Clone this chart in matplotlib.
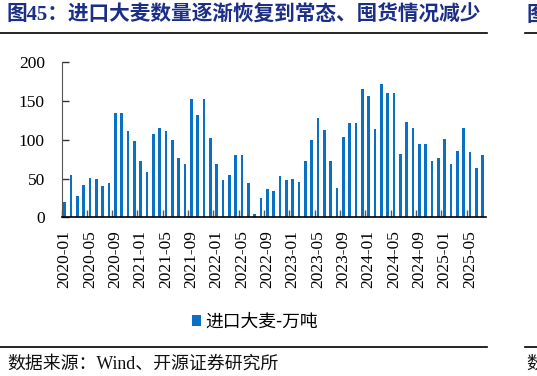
import matplotlib
matplotlib.use("Agg")
import matplotlib.pyplot as plt
import pandas as pd
import numpy as np

# ---- data ----
months = pd.period_range("2020-01", "2025-07", freq="M").strftime("%Y-%m").tolist()
barley_import = [
    20, 54, 28, 42, 51, 50, 41, 44, 134, 134, 111, 98,        # 2020
    73, 59, 107, 115, 111, 100, 77, 69, 152, 132, 153, 102,   # 2021
    69, 48, 55, 80, 80, 44, 4, 25, 36, 34, 53, 48,            # 2022
    50, 46, 73, 100, 128, 112, 72, 38, 103, 122, 122, 166,    # 2023
    157, 114, 172, 161, 161, 82, 123, 115, 94, 94, 72, 77,    # 2024
    101, 69, 85, 115, 84, 63, 81,                             # 2025
]
series_name = "进口大麦-万吨"
title_text = "图45：进口大麦数量逐渐恢复到常态、囤货情况减少"
source_text = "数据来源：Wind、开源证券研究所"
yticks = [0, 50, 100, 150, 200]

BLUE = "#0A70C4"
NAVY = "#1C2F86"
FONT = ["Liberation Serif", "Noto Sans CJK SC", "DejaVu Sans"]
plt.rcParams["font.family"] = FONT

W, H = 537, 376
fig = plt.figure(figsize=(W / 100, H / 100), dpi=100)

def fx(px):
    return px / W

def fy(py):
    return 1 - py / H

ax = fig.add_axes([fx(61.5), fy(217.3), fx(485.7) - fx(61.5), fy(62.3) - fy(217.3)])
x = np.arange(len(months))
ax.bar(x, barley_import, width=0.42, color=BLUE, label=series_name, zorder=2)

ax.set_xlim(-0.5, len(months) - 0.5)
ax.set_ylim(0, 200)
ax.set_yticks(yticks)
ax.set_yticklabels([str(v) for v in yticks], fontsize=12.5)
ax.tick_params(axis="y", direction="in", length=5, width=1, pad=12, colors="#333333", labelcolor="black")

major = x[::4]
ax.set_xticks(major)
ax.set_xticklabels([months[i] for i in major], rotation=90, fontsize=12.5)
ax.tick_params(axis="x", which="major", length=0, pad=9)
ax.set_xticks(np.arange(-0.5, len(months), 4), minor=True)
ax.tick_params(axis="x", which="minor", direction="in", length=5, width=1, colors="#555555")

for s in ["top", "right"]:
    ax.spines[s].set_visible(False)
ax.spines["left"].set_color("#555555")
ax.spines["bottom"].set_color("black")
ax.spines["bottom"].set_linewidth(1.2)

# legend
leg = fig.legend(handles=ax.patches[:1], labels=[series_name], loc="center",
                 bbox_to_anchor=(fx(255), fy(321.5)), frameon=False,
                 handlelength=0.55, handleheight=0.55, handletextpad=0.25,
                 prop={"family": ["Noto Sans CJK SC"], "size": 12.8})

# title and lines
fig.text(fx(7), fy(16), title_text, color=NAVY, fontsize=14.9, fontweight="bold",
         ha="left", va="center")
fig.add_artist(plt.Line2D([0, fx(487)], [fy(33.3), fy(33.3)], color="black", lw=1.2))
fig.add_artist(plt.Line2D([fx(525), 1], [fy(33.3), fy(33.3)], color="black", lw=1.2))
fig.text(fx(526), fy(16), "图", color=NAVY, fontsize=14.9, fontweight="bold", ha="left", va="center")

fig.add_artist(plt.Line2D([0, fx(487)], [fy(346.7), fy(346.7)], color="black", lw=1.2))
fig.add_artist(plt.Line2D([fx(525), 1], [fy(346.7), fy(346.7)], color="black", lw=1.2))
fig.text(fx(7), fy(364), source_text, fontsize=12.9, ha="left", va="center", color="#111111")
fig.text(fx(526), fy(364), "数", fontsize=12.9, ha="left", va="center", color="#111111")

fig.savefig("out.png", dpi=100)
